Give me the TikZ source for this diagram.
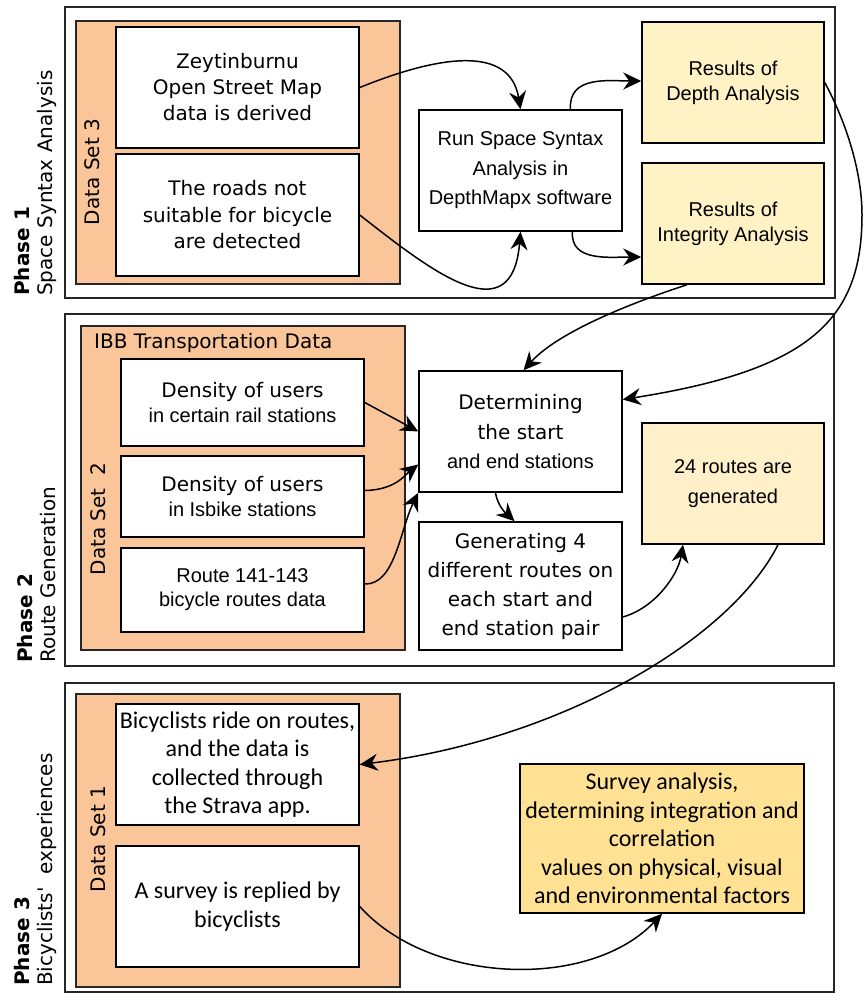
\documentclass[tikz,border=0pt]{standalone}
\usepackage{fontspec}
\setmainfont{DejaVu Sans}
\newfontfamily\arialfont{Liberation Sans}
\newfontfamily\calibrifont{Carlito}
\usetikzlibrary{arrows.meta}

\definecolor{setorange}{HTML}{FAC599}
\definecolor{resyellow}{HTML}{FFF2C4}
\definecolor{rtsyellow}{HTML}{FFF0C9}
\definecolor{anagold}{HTML}{FFE194}

\tikzset{
  phasebox/.style={draw=black!85, line width=1.5pt},
  setbox/.style={draw=black!85, fill=setorange, line width=1.5pt},
  stepbox/.style={draw, fill=white, line width=1.5pt, align=center, inner sep=1pt},
  resbox/.style={stepbox, fill=resyellow},
  arr/.style={-{Stealth[length=18pt,width=17pt,inset=6pt]}, line width=1.5pt},
  setlabel/.style={rotate=90, inner sep=0pt, font=\fontsize{20}{24}\selectfont},
  phaselabel/.style={rotate=90, anchor=north west, align=left, inner sep=0pt, font=\fontsize{20}{23}\selectfont},
}

\begin{document}
\begin{tikzpicture}[x=1pt,y=-1pt]
\useasboundingbox (0,0) rectangle (863,993);

% phase frames
\node[phasebox, minimum width=770pt, minimum height=291pt] (ph1) at (450,152.5) {};
\node[phasebox, minimum width=769pt, minimum height=352pt] (ph2) at (449.5,490) {};
\node[phasebox, minimum width=769pt, minimum height=309pt] (ph3) at (449.5,837.5) {};

\node[phaselabel] (lab1) at (14,296) {\textbf{Phase 1}\\Space Syntax Analysis};
\node[phaselabel] (lab2) at (17,663) {\textbf{Phase 2}\\Route Generation};
\node[phaselabel] (lab3) at (14,986) {\textbf{Phase 3}\\Bicyclists\textquotesingle\ \ experiences};

% data sets
\node[setbox, minimum width=324pt, minimum height=263pt] (ds3) at (238,152.5) {};
\node[setbox, minimum width=324pt, minimum height=324pt] (ds2) at (243,488) {};
\node[setbox, minimum width=324pt, minimum height=293pt] (ds1) at (238,840.5) {};

\node[setlabel] (ds3lab) at (92,172) {Data Set 3};
\node[setlabel] (ds2lab) at (98,519) {Data Set\ \ 2};
\node[setlabel] (ds1lab) at (98,839) {Data Set 1};
\node[anchor=west, inner sep=0pt, font=\fontsize{20}{24}\selectfont] (ibb) at (94,343) {IBB Transportation Data};

% phase 1
\node[stepbox, minimum width=243pt, minimum height=121pt, font=\fontsize{20}{26}\selectfont] (zey) at (237.5,87.5)
  {Zeytinburnu\\Open Street Map\\data is derived};
\node[stepbox, minimum width=243pt, minimum height=122pt, font=\fontsize{20}{26.5}\selectfont] (road) at (237.5,215)
  {The roads not\\suitable for bicycle\\are detected};
\node[stepbox, minimum width=203pt, minimum height=121pt, font=\arialfont\fontsize{20}{29.5}\selectfont] (run) at (520.5,170.5)
  {Run Space Syntax\\Analysis in\\DepthMapx software};
\node[resbox, minimum width=182pt, minimum height=121pt, font=\arialfont\fontsize{20}{25}\selectfont] (depth) at (733,82.5)
  {Results of\\Depth Analysis};
\node[resbox, minimum width=182pt, minimum height=121pt, font=\arialfont\fontsize{20}{25}\selectfont] (integ) at (733,223.5)
  {Results of\\Integrity Analysis};

% phase 2
\node[stepbox, minimum width=243pt, minimum height=87pt, font=\fontsize{20}{24.5}\selectfont] (dens1) at (242.5,402.5)
  {Density of users\\{\arialfont in certain rail stations}};
\node[stepbox, minimum width=243pt, minimum height=81pt, font=\fontsize{20}{24.5}\selectfont] (dens2) at (242.5,496.5)
  {Density of users\\{\arialfont in Isbike stations}};
\node[stepbox, minimum width=243pt, minimum height=84pt, font=\arialfont\fontsize{20}{24}\selectfont] (route) at (242.5,590)
  {Route 141-143\\bicycle routes data};
\node[stepbox, minimum width=203pt, minimum height=121pt, font=\fontsize{20}{29.5}\selectfont] (det) at (520.5,431.5)
  {Determining\\the start\\{\arialfont and end stations}};
\node[stepbox, minimum width=203pt, minimum height=128pt, font=\fontsize{20}{29}\selectfont] (gen) at (520.5,586)
  {Generating 4\\different routes on\\each start and\\end station pair};
\node[stepbox, fill=rtsyellow, minimum width=182pt, minimum height=121pt, font=\arialfont\fontsize{20}{30}\selectfont] (rts) at (733,483.5)
  {24 routes are\\generated};

% phase 3
\node[stepbox, minimum width=243pt, minimum height=121pt, font=\calibrifont\fontsize{24}{28.5}\selectfont] (ride) at (237.5,764.5)
  {Bicyclists ride on routes,\\and the data is\\collected through\\the Strava app.};
\node[stepbox, minimum width=243pt, minimum height=121pt, font=\calibrifont\fontsize{24}{28.5}\selectfont] (surv) at (237.5,906.5)
  {A survey is replied by\\bicyclists};
\node[stepbox, fill=anagold, minimum width=284pt, minimum height=149pt, font=\calibrifont\fontsize{24}{28.5}\selectfont] (ana) at (662,838.5)
  {Survey analysis,\\determining integration and\\correlation\\values on physical, visual\\and environmental factors};

% connectors
\draw[arr] (zey.east) .. controls (440,55) and (510,45) .. (run.north);
\draw[arr] (road.east) .. controls (430,270) and (512,335) .. (run.south);
\draw[arr] ([xshift=50pt]run.north) .. controls (568,75) and (610,81) .. ([yshift=1.5pt]depth.west);
\draw[arr] ([xshift=52pt]run.south) .. controls (570,262) and (610,257) .. ([yshift=-33.5pt]integ.west);
\draw[arr] (depth.east) .. controls (845,120) and (862,170) .. (862,215)
  .. controls (862,320) and (810,370) .. ([yshift=32pt]det.east);
\draw[arr] ([xshift=-46pt]integ.south) .. controls (640,300) and (560,330) .. ([xshift=3pt]det.north);
\draw[arr] (dens1.east) -- (det.west);
\draw[arr] ([yshift=6pt]dens2.east) .. controls (395,490) and (405,475) .. ([yshift=-33pt]det.west);
\draw[arr] ([yshift=6pt]route.east) .. controls (395,585) and (400,530) .. (det.south west);
\draw[arr] ([xshift=-25pt]det.south) .. controls (498,508) and (508,515) .. ([xshift=-6pt]gen.north);
\draw[arr] ([yshift=-31pt]gen.east) .. controls (655,608) and (678,575) .. ([xshift=-50pt]rts.south);
\draw[arr] ([xshift=45pt]rts.south) .. controls (730,640) and (560,740) .. (ride.east);
\draw[arr] (surv.east) .. controls (430,985) and (590,990) .. (ana.south);
\end{tikzpicture}
\end{document}
